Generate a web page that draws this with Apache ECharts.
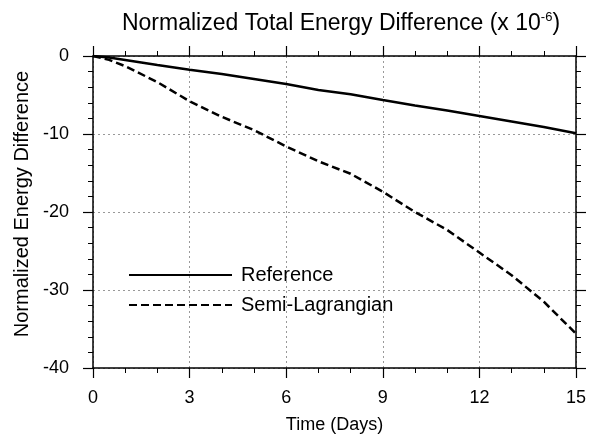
<!DOCTYPE html>
<html>
<head>
<meta charset="utf-8">
<script src="https://cdn.jsdelivr.net/npm/echarts@6/dist/echarts.min.js"></script>
<style>
  html, body { margin: 0; padding: 0; background: #fff; }
  #chart { width: 589px; height: 439px; }
</style>
</head>
<body>
<div id="chart"></div>
<script>
// time in days
var days = [0, 0.5, 1, 2, 3, 4, 5, 6, 7, 8, 9, 10, 11, 12, 13, 14, 15];
// normalized energy difference (x 1e-6)
var reference = [0, -0.2, -0.5, -1.15, -1.75, -2.3, -2.95, -3.6, -4.35, -4.9, -5.65, -6.35, -7.0, -7.7, -8.4, -9.1, -9.9];
var semiLagrangian = [0, -0.5, -1.3, -3.35, -5.8, -7.8, -9.5, -11.6, -13.5, -15.1, -17.4, -20.0, -22.3, -25.2, -28.1, -31.5, -35.6];
var seriesNames = ['Reference', 'Semi-Lagrangian'];

var FONT = 'Liberation Sans, Helvetica, Arial, sans-serif';
var myChart = echarts.init(document.getElementById('chart'));

function pairs(xs, ys) {
    var out = [];
    for (var i = 0; i < xs.length; i++) out.push([xs[i], ys[i]]);
    return out;
}

var frameLine = { show: true, onZero: false, lineStyle: { color: '#000', width: 1.5 } };
var majorTick = { show: true, inside: false, length: 10, lineStyle: { color: '#000', width: 1.2 } };
var minorLine = { color: '#000', width: 1 };
var gridLine = { show: true, lineStyle: { color: '#999', width: 1, type: [2, 3] } };

var option = {
    backgroundColor: '#fff',
    animation: false,
    title: {
        text: 'Normalized Total Energy Difference (x 10{sup|-6})',
        left: 336,
        textAlign: 'center',
        top: 6,
        textStyle: {
            fontFamily: FONT,
            fontSize: 23,
            fontWeight: 'normal',
            color: '#000',
            rich: {
                sup: { fontFamily: FONT, fontSize: 13, color: '#000', verticalAlign: 'top', padding: [0, 0, 12, 0] }
            }
        }
    },
    legend: {
        orient: 'vertical',
        left: 128,
        top: 265,
        padding: 0,
        itemWidth: 103,
        itemHeight: 10,
        itemGap: 10,
        data: seriesNames,
        itemStyle: { opacity: 0 },
        textStyle: { fontFamily: FONT, fontSize: 20, color: '#000', lineHeight: 20, padding: [0, 0, 0, 4] }
    },
    grid: { left: 93, right: 12, top: 56, bottom: 71 },
    xAxis: [
        {
            type: 'value', position: 'bottom',
            min: 0, max: 15, interval: 3,
            name: 'Time (Days)', nameLocation: 'middle', nameGap: 48,
            nameTextStyle: { fontFamily: FONT, fontSize: 18, color: '#000' },
            axisLine: frameLine, axisTick: majorTick,
            minorTick: { show: true, splitNumber: 3, length: 5, lineStyle: minorLine },
            axisLabel: { fontFamily: FONT, fontSize: 18, color: '#000', margin: 21 },
            splitLine: gridLine
        },
        {
            type: 'value', position: 'top',
            min: 0, max: 15, interval: 3,
            axisLine: frameLine, axisTick: majorTick,
            minorTick: { show: true, splitNumber: 3, length: 5, lineStyle: minorLine },
            axisLabel: { show: false },
            splitLine: { show: false }
        }
    ],
    yAxis: [
        {
            type: 'value', position: 'left',
            min: -40, max: 0, interval: 10,
            name: 'Normalized Energy Difference', nameLocation: 'middle', nameGap: 57,
            nameTextStyle: { fontFamily: FONT, fontSize: 20, color: '#000', padding: [0, 0, 0, 16] },
            axisLine: frameLine, axisTick: majorTick,
            minorTick: { show: true, splitNumber: 5, length: 5, lineStyle: minorLine },
            axisLabel: { fontFamily: FONT, fontSize: 18, color: '#000', margin: 24 },
            splitLine: gridLine
        },
        {
            type: 'value', position: 'right',
            min: -40, max: 0, interval: 10,
            axisLine: frameLine, axisTick: majorTick,
            minorTick: { show: true, splitNumber: 5, length: 5, lineStyle: minorLine },
            axisLabel: { show: false },
            splitLine: { show: false }
        }
    ],
    series: [
        {
            name: seriesNames[0],
            type: 'line',
            symbol: 'none',
            data: pairs(days, reference),
            lineStyle: { color: '#000', width: 2.5, type: 'solid' },
            itemStyle: { color: '#000' }
        },
        {
            name: seriesNames[1],
            type: 'line',
            symbol: 'none',
            data: pairs(days, semiLagrangian),
            lineStyle: { color: '#000', width: 2.5, type: [8, 4] },
            itemStyle: { color: '#000' }
        }
    ]
};

myChart.setOption(option);
</script>
</body>
</html>
